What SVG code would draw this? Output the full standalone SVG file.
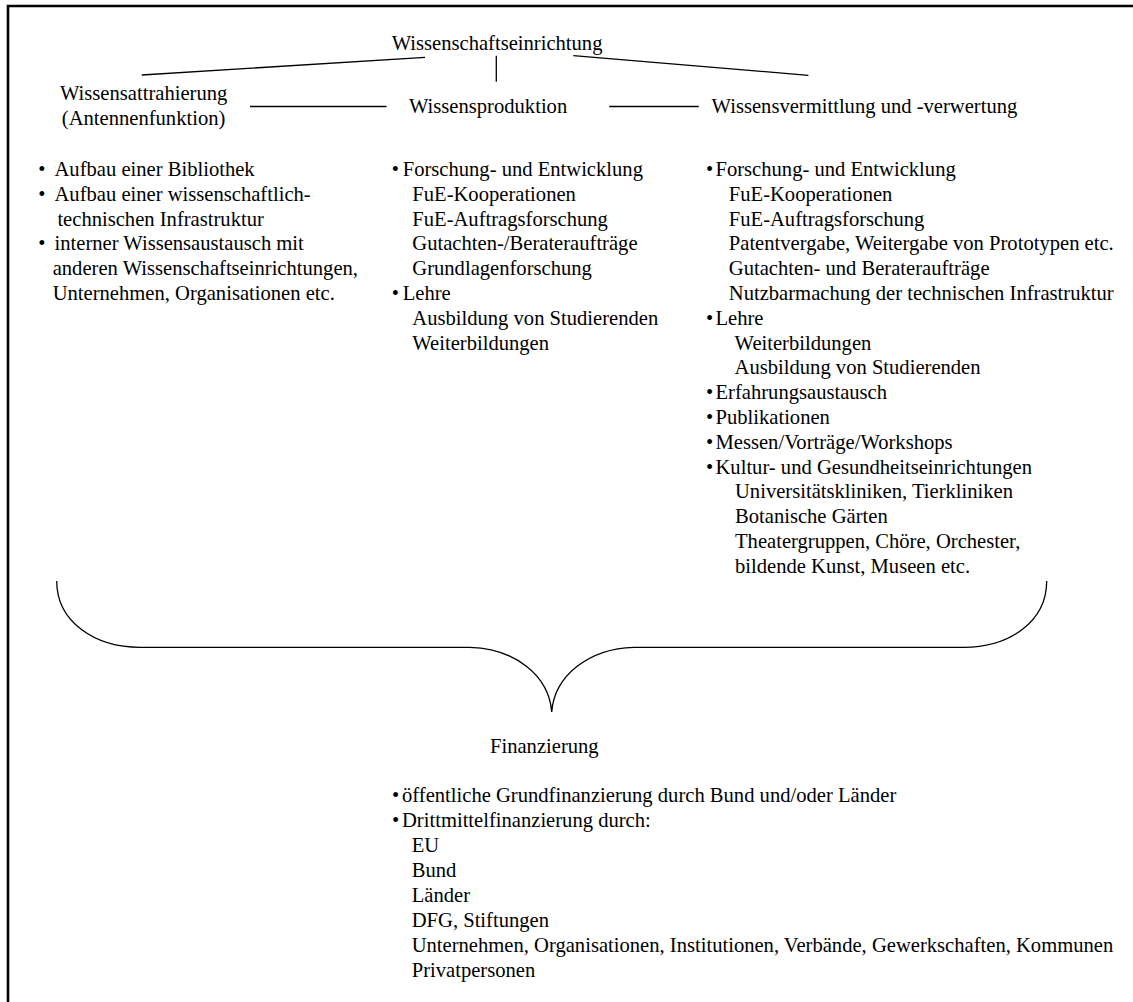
<svg xmlns="http://www.w3.org/2000/svg" width="1133" height="1002" viewBox="0 0 1133 1002">
<style>
text{font-family:"Liberation Serif","Times New Roman",serif;font-size:20.6px;fill:#000}
.ln{stroke:#000;stroke-width:1.3;fill:none}
.frame{stroke:#000;stroke-width:2.6;fill:none}
</style>
<rect x="0" y="0" width="1133" height="1002" fill="#fff"/>
<path class="frame" d="M8,1002 V6 H1133"/>
<g id="connectors">
<line class="ln" x1="141.8" y1="75" x2="425" y2="57.3"/>
<line class="ln" x1="496.3" y1="55.7" x2="496.3" y2="81.7"/>
<line class="ln" x1="573.3" y1="55.7" x2="808.4" y2="75.3"/>
<line class="ln" x1="250" y1="106.5" x2="386.5" y2="106.5"/>
<line class="ln" x1="609.3" y1="106.5" x2="698.8" y2="106.5"/>
<path class="ln" d="M56.7,581 C56.7,622 95,647.3 140,647.3 H470 C515,648.5 549,676 551.7,712 C554.5,676 588.5,648.5 634,647.3 H964 C1009,647.3 1046.7,622 1046.7,581"/>
</g>
<g id="root"><text x="391.7" y="50">Wissenschaftseinrichtung</text></g>
<g id="attr">
<text x="60" y="100">Wissensattrahierung</text>
<text x="61.8" y="125">(Antennenfunktion)</text>
<text x="38.2" y="176">•</text><text x="54.5" y="176">Aufbau einer Bibliothek</text>
<text x="38.2" y="200.8">•</text><text x="54.5" y="200.8">Aufbau einer wissenschaftlich-</text>
<text x="57.4" y="225.6">technischen Infrastruktur</text>
<text x="38.2" y="250.4">•</text><text x="54.5" y="250.4">interner Wissensaustausch mit</text>
<text x="52.7" y="275.2">anderen Wissenschaftseinrichtungen,</text>
<text x="52.7" y="300">Unternehmen, Organisationen etc.</text>
</g>
<g id="prod">
<text x="409" y="113.3">Wissensproduktion</text>
<text x="391.7" y="176">•</text><text x="402.7" y="176">Forschung- und Entwicklung</text>
<text x="412.3" y="200.8">FuE-Kooperationen</text>
<text x="412.3" y="225.6">FuE-Auftragsforschung</text>
<text x="412.3" y="250.4">Gutachten-/Beraterauftr&#228;ge</text>
<text x="412.3" y="275.2">Grundlagenforschung</text>
<text x="391.7" y="300">•</text><text x="402.7" y="300">Lehre</text>
<text x="412.3" y="324.8">Ausbildung von Studierenden</text>
<text x="412.3" y="349.6">Weiterbildungen</text>
</g>
<g id="verm">
<text x="711.6" y="113.3">Wissensvermittlung und -verwertung</text>
<text x="706" y="176">•</text><text x="715.5" y="176">Forschung- und Entwicklung</text>
<text x="728.8" y="200.8">FuE-Kooperationen</text>
<text x="728.8" y="225.6">FuE-Auftragsforschung</text>
<text x="728.8" y="250.4">Patentvergabe, Weitergabe von Prototypen etc.</text>
<text x="728.8" y="275.2">Gutachten- und Beraterauftr&#228;ge</text>
<text x="728.8" y="300">Nutzbarmachung der technischen Infrastruktur</text>
<text x="706" y="324.8">•</text><text x="715.5" y="324.8">Lehre</text>
<text x="734.6" y="349.6">Weiterbildungen</text>
<text x="734.6" y="374.4">Ausbildung von Studierenden</text>
<text x="706" y="399.2">•</text><text x="715.5" y="399.2">Erfahrungsaustausch</text>
<text x="706" y="424">•</text><text x="715.5" y="424">Publikationen</text>
<text x="706" y="448.8">•</text><text x="715.5" y="448.8">Messen/Vortr&#228;ge/Workshops</text>
<text x="706" y="473.6">•</text><text x="715.5" y="473.6">Kultur- und Gesundheitseinrichtungen</text>
<text x="735" y="498.4">Universit&#228;tskliniken, Tierkliniken</text>
<text x="735" y="523.2">Botanische G&#228;rten</text>
<text x="735" y="548">Theatergruppen, Ch&#246;re, Orchester,</text>
<text x="735" y="572.8">bildende Kunst, Museen etc.</text>
</g>
<g id="fin">
<text x="490" y="753.3">Finanzierung</text>
<text x="392" y="801.7">•</text><text x="402" y="801.7">&#246;ffentliche Grundfinanzierung durch Bund und/oder L&#228;nder</text>
<text x="392" y="826.7">•</text><text x="402" y="826.7">Drittmittelfinanzierung durch:</text>
<text x="411.7" y="851.7">EU</text>
<text x="411.7" y="876.7">Bund</text>
<text x="411.7" y="901.7">L&#228;nder</text>
<text x="411.7" y="926.7">DFG, Stiftungen</text>
<text x="411.7" y="951.7">Unternehmen, Organisationen, Institutionen, Verb&#228;nde, Gewerkschaften, Kommunen</text>
<text x="411.7" y="976.7">Privatpersonen</text>
</g>
</svg>
